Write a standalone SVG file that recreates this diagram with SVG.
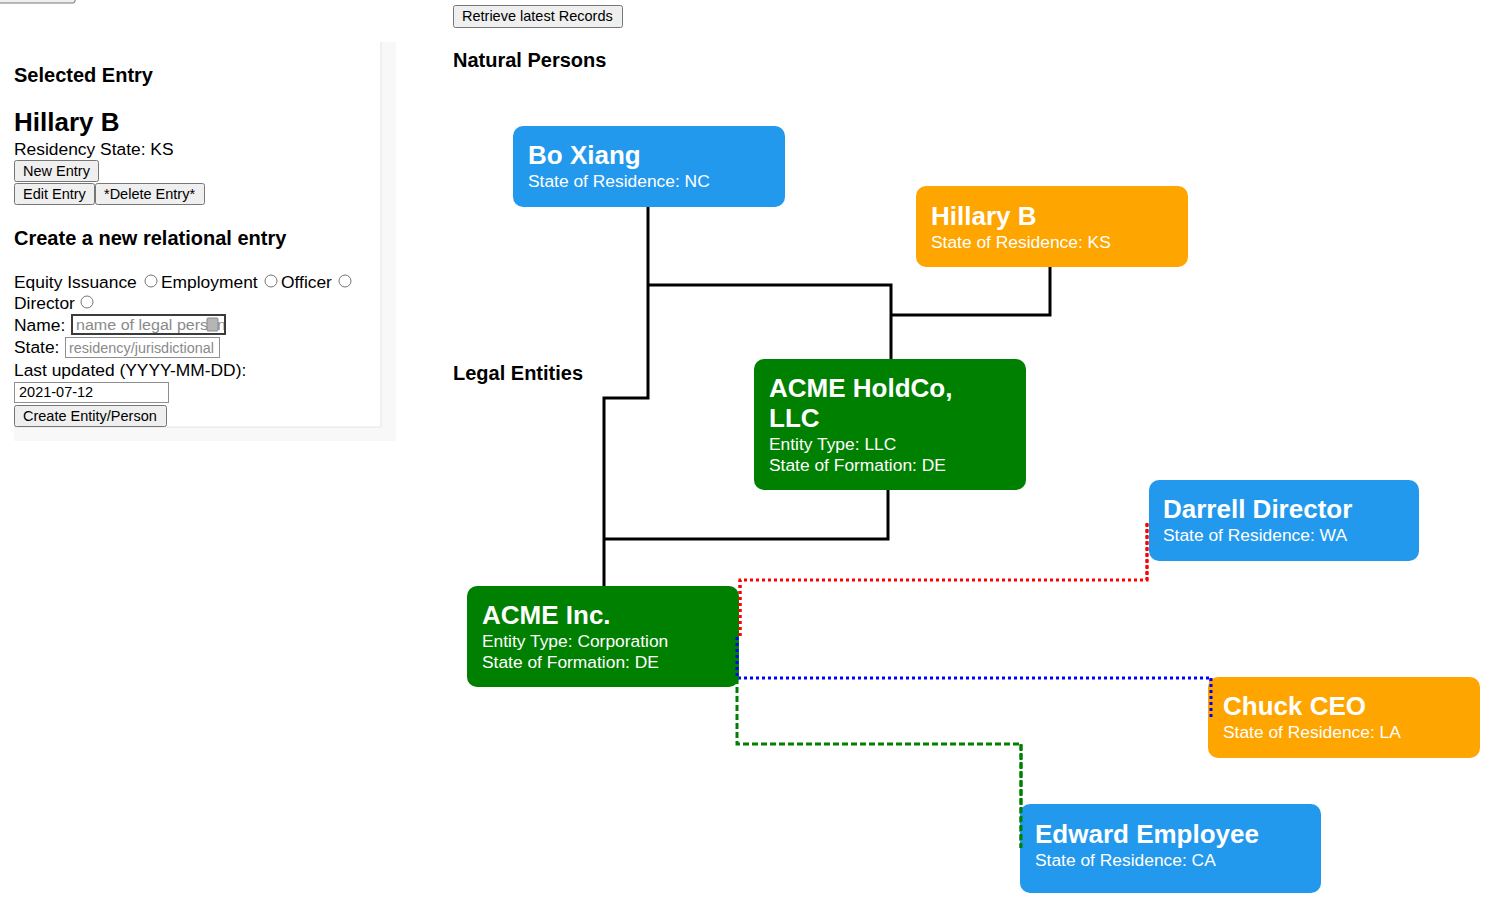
<svg xmlns="http://www.w3.org/2000/svg" width="1504" height="921" viewBox="0 0 1504 921">
<style>
text{font-family:"Liberation Sans",Arial,sans-serif;}
.h{font-weight:bold;font-size:20px;fill:#000;}
.t{font-size:17.4px;fill:#000;}
.btn{fill:#efefef;stroke:#767676;stroke-width:1;}
.bt{font-size:14.5px;fill:#000;}
.ph{font-size:14px;fill:#8a8a8a;}
.radio{fill:#fff;stroke:#767676;stroke-width:1;}
.nt{font-weight:bold;font-size:26px;fill:#fff;}
.ns{font-size:17.4px;fill:#fff;}
.blue{fill:#2399ee;}
.orange{fill:#ffa500;}
.green{fill:#008000;}
.solid{fill:none;stroke:#000;stroke-width:3;}
.red{fill:none;stroke:#ff0000;stroke-width:3;stroke-dasharray:3 3;}
.bl{fill:none;stroke:#0000ff;stroke-width:3;stroke-dasharray:3 3;}
.gr{fill:none;stroke:#008000;stroke-width:3;stroke-dasharray:6 3;}
</style>
<defs>
<clipPath id="nameclip"><rect x="73" y="316" width="151" height="17"/></clipPath>
</defs>
<rect x="0" y="0" width="1504" height="921" fill="#fff"/>
<rect class="btn" x="-2" y="-20" width="77" height="23" rx="2"/>

<g id="panel">
<rect x="14" y="42" width="382" height="399" fill="#f8f8f8"/>
<rect x="14" y="42" width="367" height="385" fill="#fff"/>
<line x1="381" y1="42" x2="381" y2="427" stroke="#e4e4e4" stroke-width="1"/>
<line x1="14" y1="427" x2="381" y2="427" stroke="#e4e4e4" stroke-width="1"/>
<text class="h" x="14" y="82">Selected Entry</text>
<text x="14" y="131" font-size="26" font-weight="bold" fill="#000">Hillary B</text>
<text class="t" x="14" y="155">Residency State: KS</text>
<rect class="btn" x="14.5" y="160.5" width="84" height="21" rx="2"/>
<text class="bt" x="23" y="176">New Entry</text>
<rect class="btn" x="14.5" y="183.5" width="80" height="21" rx="2"/>
<text class="bt" x="23" y="199">Edit Entry</text>
<rect class="btn" x="95.5" y="183.5" width="109" height="21" rx="2"/>
<text class="bt" x="104" y="199">*Delete Entry*</text>
<text class="h" x="14" y="245">Create a new relational entry</text>
<text class="t" x="14" y="288">Equity Issuance</text>
<circle class="radio" cx="151" cy="281" r="6"/>
<text class="t" x="161" y="288">Employment</text>
<circle class="radio" cx="271" cy="281" r="6"/>
<text class="t" x="281" y="288">Officer</text>
<circle class="radio" cx="345" cy="281" r="6"/>
<text class="t" x="14" y="309">Director</text>
<circle class="radio" cx="87" cy="302" r="6"/>
<text class="t" x="14" y="331">Name:</text>
<rect x="72" y="315" width="153" height="19" fill="#fff" stroke="#3b3b3b" stroke-width="2"/>
<text class="ph" x="76" y="330" textLength="150" lengthAdjust="spacingAndGlyphs" clip-path="url(#nameclip)">name of legal person</text>
<rect x="207" y="318" width="11" height="13" rx="1" fill="#b5b5b5" stroke="#8a8a8a" stroke-width="1"/>
<text class="t" x="14" y="353">State:</text>
<rect x="65.5" y="337.5" width="154" height="20" fill="#fff" stroke="#8f8f8f" stroke-width="1"/>
<text class="ph" x="69" y="353" textLength="145" lengthAdjust="spacingAndGlyphs">residency/jurisdictional</text>
<text class="t" x="14" y="376">Last updated (YYYY-MM-DD):</text>
<rect x="14.5" y="382.5" width="154" height="20" fill="#fff" stroke="#8f8f8f" stroke-width="1"/>
<text class="bt" x="19" y="397" font-size="14">2021-07-12</text>
<rect class="btn" x="14.5" y="405.5" width="152" height="21" rx="2"/>
<text class="bt" x="23" y="421">Create Entity/Person</text>
</g>

<g id="header">
<rect class="btn" x="453.5" y="5.5" width="169" height="22" rx="2"/>
<text class="bt" x="462" y="21">Retrieve latest Records</text>
<text class="h" x="453" y="67">Natural Persons</text>
<text class="h" x="453" y="380">Legal Entities</text>
</g>

<g id="connectors">
<path class="solid" d="M648,207 V398 H604 V586"/>
<path class="solid" d="M648,285 H891 V359"/>
<path class="solid" d="M1050,267 V315 H891"/>
<path class="solid" d="M888,490 V539 H604"/>
<path class="red" d="M740,636 V580 H1147 V522"/>
<path class="bl" d="M737,637 V678 H1211 V717"/>
<path class="gr" d="M737,678 V744 H1021 V848"/>
</g>

<g id="bo-xiang">
<rect class="blue" x="513" y="126" width="272" height="81" rx="10"/>
<text class="nt" x="528" y="164">Bo Xiang</text>
<text class="ns" x="528" y="187">State of Residence: NC</text>
</g>
<g id="hillary-b">
<rect class="orange" x="916" y="186" width="272" height="81" rx="10"/>
<text class="nt" x="931" y="225">Hillary B</text>
<text class="ns" x="931" y="248">State of Residence: KS</text>
</g>
<g id="acme-holdco">
<rect class="green" x="754" y="359" width="272" height="131" rx="10"/>
<text class="nt" x="769" y="397">ACME HoldCo,</text>
<text class="nt" x="769" y="427">LLC</text>
<text class="ns" x="769" y="450">Entity Type: LLC</text>
<text class="ns" x="769" y="471">State of Formation: DE</text>
</g>
<g id="darrell-director">
<rect class="blue" x="1149" y="480" width="270" height="81" rx="10"/>
<text class="nt" x="1163" y="518">Darrell Director</text>
<text class="ns" x="1163" y="541">State of Residence: WA</text>
</g>
<g id="acme-inc">
<rect class="green" x="467" y="586" width="272" height="101" rx="10"/>
<text class="nt" x="482" y="624">ACME Inc.</text>
<text class="ns" x="482" y="647">Entity Type: Corporation</text>
<text class="ns" x="482" y="668">State of Formation: DE</text>
</g>
<g id="chuck-ceo">
<rect class="orange" x="1208" y="677" width="272" height="81" rx="10"/>
<text class="nt" x="1223" y="715">Chuck CEO</text>
<text class="ns" x="1223" y="738">State of Residence: LA</text>
</g>
<g id="edward-employee">
<rect class="blue" x="1020" y="804" width="301" height="89" rx="10"/>
<text class="nt" x="1035" y="843">Edward Employee</text>
<text class="ns" x="1035" y="866">State of Residence: CA</text>
</g>
<g id="connector-overlays">
<path class="red" d="M740,636 V580"/>
<path class="bl" d="M737,637 V678"/>
<path class="bl" d="M1211,678 V717"/>
<path class="gr" d="M1021,744 V848"/>
<path class="red" d="M1147,580 V522"/>
</g>
</svg>
